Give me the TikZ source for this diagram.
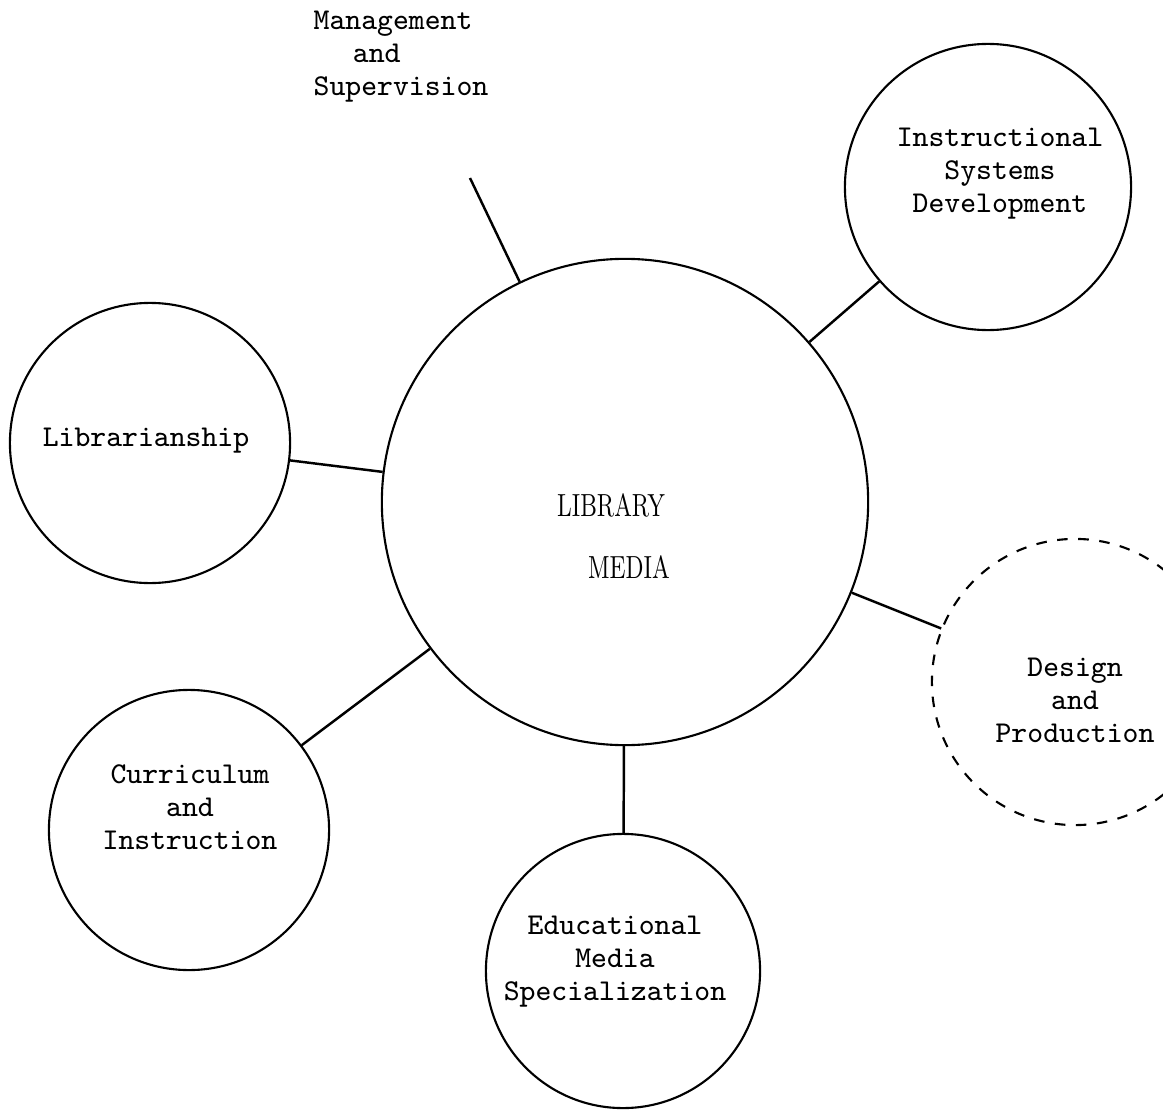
\documentclass[tikz,border=0pt]{standalone}
\usepackage{graphicx}
\newcommand{\narrowcaps}[1]{\scalebox{0.715}[1]{#1}}
\begin{document}
\begin{tikzpicture}[x=0.01cm, y=-0.01cm,
        area/.style={circle, draw, line width=0.6pt, inner sep=0pt},
        tag/.style={align=center, inner sep=0pt, font=\fontsize{8.6}{9.4}\selectfont\ttfamily},
        caps/.style={inner sep=0pt, font=\fontsize{9.1}{11}\selectfont},
        link/.style={line width=0.7pt}]
        \useasboundingbox (0,0) rectangle (1163,1115);
        \coordinate (H) at (625,502);
        \coordinate (I) at (988,187);
        \coordinate (S) at (150,443);
        \coordinate (D) at (1075,682);
        \coordinate (C) at (189,830);
        \coordinate (E) at (623,971);
        \coordinate (M) at (470,178);
        \node[area, minimum size=4.86cm] (hub) at (H) {};
        \node[area, minimum size=2.86cm] (isd) at (I) {};
        \node[area, minimum size=2.80cm] (lsh) at (S) {};
        \node[area, minimum size=2.86cm, dashed] (dap) at (D) {};
        \node[area, minimum size=2.80cm] (cai) at (C) {};
        \node[area, minimum size=2.74cm] (ems) at (E) {};
        \node[caps] (libword) at (611,505) {\narrowcaps{LIBRARY}};
        \node[caps] (mediaword) at (629,567) {\narrowcaps{MEDIA}};
        \node[tag, align=left] (mgttext) at (401,57) {Management\\\hspace*{1.3em}and\\Supervision};
        \node[tag] (isdtext) at (1000,174) {Instructional\\Systems\\Development};
        \node[tag] (lshtext) at (146,441) {Librarianship};
        \node[tag] (daptext) at (1075,700) {Design\\and\\Production};
        \node[tag] (caitext) at (190,807) {Curriculum\\and\\Instruction};
        \node[tag] (emstext) at (615,962) {Educational\\Media\\Specialization};
        \draw[link] (hub) -- (M);
        \draw[link] (hub) -- (isd);
        \draw[link] (hub) -- (lsh);
        \draw[link] (hub) -- (dap);
        \draw[link] (hub) -- (cai);
        \draw[link] (hub) -- (ems);
\end{tikzpicture}
\end{document}
